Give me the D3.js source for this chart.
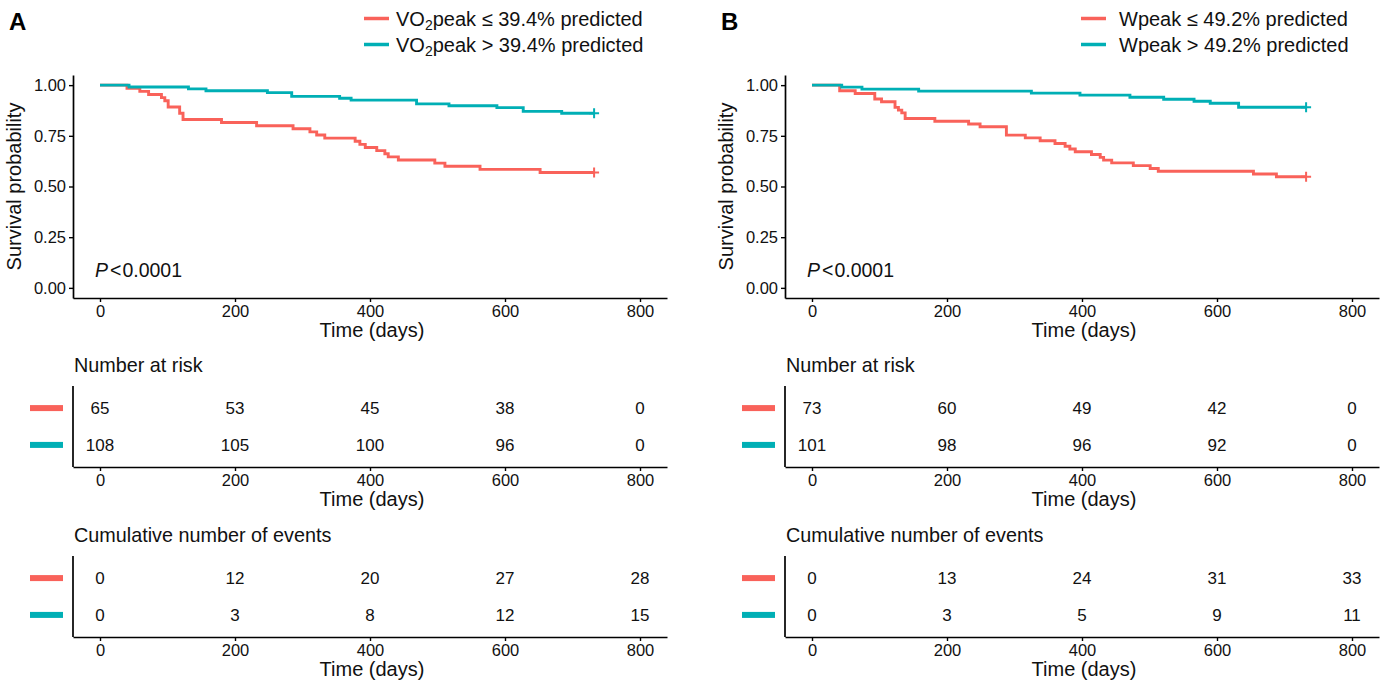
<!DOCTYPE html>
<html>
<head>
<meta charset="utf-8">
<script src="https://cdn.jsdelivr.net/npm/d3@7/dist/d3.min.js"></script>
<style>
  html, body { margin: 0; padding: 0; background: #fff; }
  svg { display: block; }
  text { font-family: "Liberation Sans", Arial, Helvetica, sans-serif; }
</style>
</head>
<body>
<svg id="chart" width="1390" height="682"></svg>
<script>
// ---------------- DATA ----------------
const timeTicks = [0, 200, 400, 600, 800];
const survTicks = [0, 0.25, 0.5, 0.75, 1];
const survTickLabels = ["0.00", "0.25", "0.50", "0.75", "1.00"];
const followUpEnd = 732;

const panelLetters = ["A", "B"];
const legendA = [["VO", "2", "peak \u2264 39.4% predicted"], ["VO", "2", "peak > 39.4% predicted"]];
const legendB = [["Wpeak \u2264 49.2% predicted"], ["Wpeak > 49.2% predicted"]];
const pValueText = "0.0001";

// event (death) days
const eventDaysA_low  = [40,59,72,91,96,101,101,118,118,123,123,180,232,286,311,321,333,378,385,393,410,422,427,442,496,511,563,652];
const eventDaysA_high = [43,131,157,248,284,284,355,372,469,469,517,588,627,627,684];
const eventDaysB_low  = [41,41,64,93,93,103,123,123,128,133,138,138,182,232,249,288,288,288,316,338,360,375,382,390,414,427,432,444,476,501,513,654,688];
const eventDaysB_high = [44,74,158,325,397,471,521,566,590,632,632];

// number at risk at timeTicks
const riskA_low  = [65, 53, 45, 38, 0];
const riskA_high = [108, 105, 100, 96, 0];
const riskB_low  = [73, 60, 49, 42, 0];
const riskB_high = [101, 98, 96, 92, 0];

// cumulative number of events at timeTicks
const cumA_low  = [0, 12, 20, 27, 28];
const cumA_high = [0, 3, 8, 12, 15];
const cumB_low  = [0, 13, 24, 31, 33];
const cumB_high = [0, 3, 5, 9, 11];

const colorLow = "#F9625A";
const colorHigh = "#00AFB5";

// ---------------- DRAW ----------------
const svg = d3.select("#chart");
const FONT = "'Liberation Sans', Arial, Helvetica, sans-serif";
const TXT = "#111";

function kmSteps(events, n0, tEnd) {
  const counts = d3.rollups(events, v => v.length, d => d).sort((a, b) => a[0] - b[0]);
  let s = 1, n = n0;
  const pts = [[0, 1]];
  counts.forEach(([t, d]) => { s = s * (n - d) / n; n -= d; pts.push([t, s]); });
  pts.push([tEnd, s]);
  return pts;
}

function drawXAxis(g, x, yPos) {
  const ax = g.append("g").attr("transform", `translate(0,${yPos})`)
    .call(d3.axisBottom(x).tickValues(timeTicks).tickSize(4).tickPadding(3).tickSizeOuter(0));
  ax.select(".domain").attr("stroke", "#000").attr("stroke-width", 1.7);
  ax.selectAll(".tick line").attr("stroke", "#000").attr("stroke-width", 1.4);
  ax.selectAll(".tick text").attr("font-family", FONT).attr("font-size", 16.5).attr("fill", TXT);
  return ax;
}

function drawPanel(dx, letter, legend, evLow, evHigh, riskLow, riskHigh, cumLow, cumHigh, lx, tx) {
  const g = svg.append("g");
  const x = d3.scaleLinear().domain([-40, 840]).range([73 + dx, 667 + dx]);
  const y = d3.scaleLinear().domain([-0.05, 1.05]).range([298, 75]);

  // panel letter
  g.append("text").attr("x", 9 + dx).attr("y", 30).attr("font-size", 24).attr("font-weight", "bold")
    .attr("fill", "#000").text(letter);

  // legend
  const colors = [colorLow, colorHigh];
  legend.forEach((parts, i) => {
    const cy = 18.5 + i * 26;
    g.append("line").attr("x1", lx).attr("x2", lx + 25).attr("y1", cy).attr("y2", cy)
      .attr("stroke", colors[i]).attr("stroke-width", 3.5);
    const t = g.append("text").attr("x", tx).attr("y", cy + 7).attr("font-size", 20).attr("fill", TXT);
    if (parts.length === 3) {
      t.append("tspan").text(parts[0]);
      t.append("tspan").attr("font-size", 14).attr("dy", 4).text(parts[1]);
      t.append("tspan").attr("dy", -4).text(parts[2]);
    } else {
      t.text(parts[0]);
    }
  });

  // main axes
  const yax = g.append("g").attr("transform", `translate(${73 + dx},0)`)
    .call(d3.axisLeft(y).tickValues(survTicks).tickFormat((d, i) => survTickLabels[i]).tickSize(4).tickPadding(3).tickSizeOuter(0));
  yax.select(".domain").attr("stroke", "#000").attr("stroke-width", 1.7);
  yax.selectAll(".tick line").attr("stroke", "#000").attr("stroke-width", 1.4);
  yax.selectAll(".tick text").attr("font-family", FONT).attr("font-size", 16.5).attr("fill", TXT);
  drawXAxis(g, x, 298);

  g.append("text").attr("transform", `translate(${21 + dx},186.5) rotate(-90)`).attr("text-anchor", "middle")
    .attr("font-size", 20).attr("fill", TXT).text("Survival probability");
  g.append("text").attr("x", x(400) + 2).attr("y", 337).attr("text-anchor", "middle")
    .attr("font-size", 20).attr("fill", TXT).text("Time (days)");

  // p-value
  const pt = g.append("text").attr("x", 95 + dx).attr("y", 277).attr("font-size", 19.5).attr("fill", TXT);
  pt.append("tspan").attr("font-style", "italic").text("P");
  pt.append("tspan").attr("dx", 2).text("<");
  pt.append("tspan").attr("dx", 1).text(pValueText);

  // KM curves
  const line = d3.line().x(d => x(d[0])).y(d => y(d[1])).curve(d3.curveStepAfter);
  [[evLow, riskLow[0], colorLow], [evHigh, riskHigh[0], colorHigh]].forEach(([ev, n0, col]) => {
    const pts = kmSteps(ev, n0, followUpEnd);
    g.append("path").attr("d", line(pts)).attr("fill", "none").attr("stroke", col)
      .attr("stroke-width", 2.9).attr("stroke-linejoin", "miter");
    const last = pts[pts.length - 1];
    const cx = x(last[0]), cy = y(last[1]);
    g.append("path").attr("d", `M${cx - 5},${cy}H${cx + 5}M${cx},${cy - 5}V${cy + 5}`)
      .attr("stroke", col).attr("stroke-width", 2);
  });

  // tables
  function table(top, title, lowVals, highVals) {
    const ty = d3.scaleLinear().domain([0.4, 2.6]).range([top + 81, top]);
    g.append("text").attr("x", 74 + dx).attr("y", top - 14).attr("font-size", 19.8).attr("fill", TXT).text(title);
    g.append("line").attr("x1", 73 + dx).attr("x2", 73 + dx).attr("y1", top).attr("y2", top + 81)
      .attr("stroke", "#000").attr("stroke-width", 1.7);
    drawXAxis(g, x, top + 81);
    g.append("text").attr("x", x(400) + 2).attr("y", top + 120).attr("text-anchor", "middle")
      .attr("font-size", 20).attr("fill", TXT).text("Time (days)");
    [[lowVals, 2, colorLow], [highVals, 1, colorHigh]].forEach(([vals, row, col]) => {
      g.append("rect").attr("x", 30 + dx).attr("y", ty(row) - 3).attr("width", 33).attr("height", 6).attr("fill", col);
      g.selectAll(null).data(vals).join("text")
        .attr("x", (d, i) => x(timeTicks[i])).attr("y", ty(row) + 6)
        .attr("text-anchor", "middle").attr("font-size", 17).attr("fill", TXT).text(d => d);
    });
  }
  table(386, "Number at risk", riskLow, riskHigh);
  table(556, "Cumulative number of events", cumLow, cumHigh);
}

drawPanel(0, panelLetters[0], legendA, eventDaysA_low, eventDaysA_high, riskA_low, riskA_high, cumA_low, cumA_high, 364, 396);
drawPanel(712, panelLetters[1], legendB, eventDaysB_low, eventDaysB_high, riskB_low, riskB_high, cumB_low, cumB_high, 1081, 1119);
</script>
</body>
</html>
